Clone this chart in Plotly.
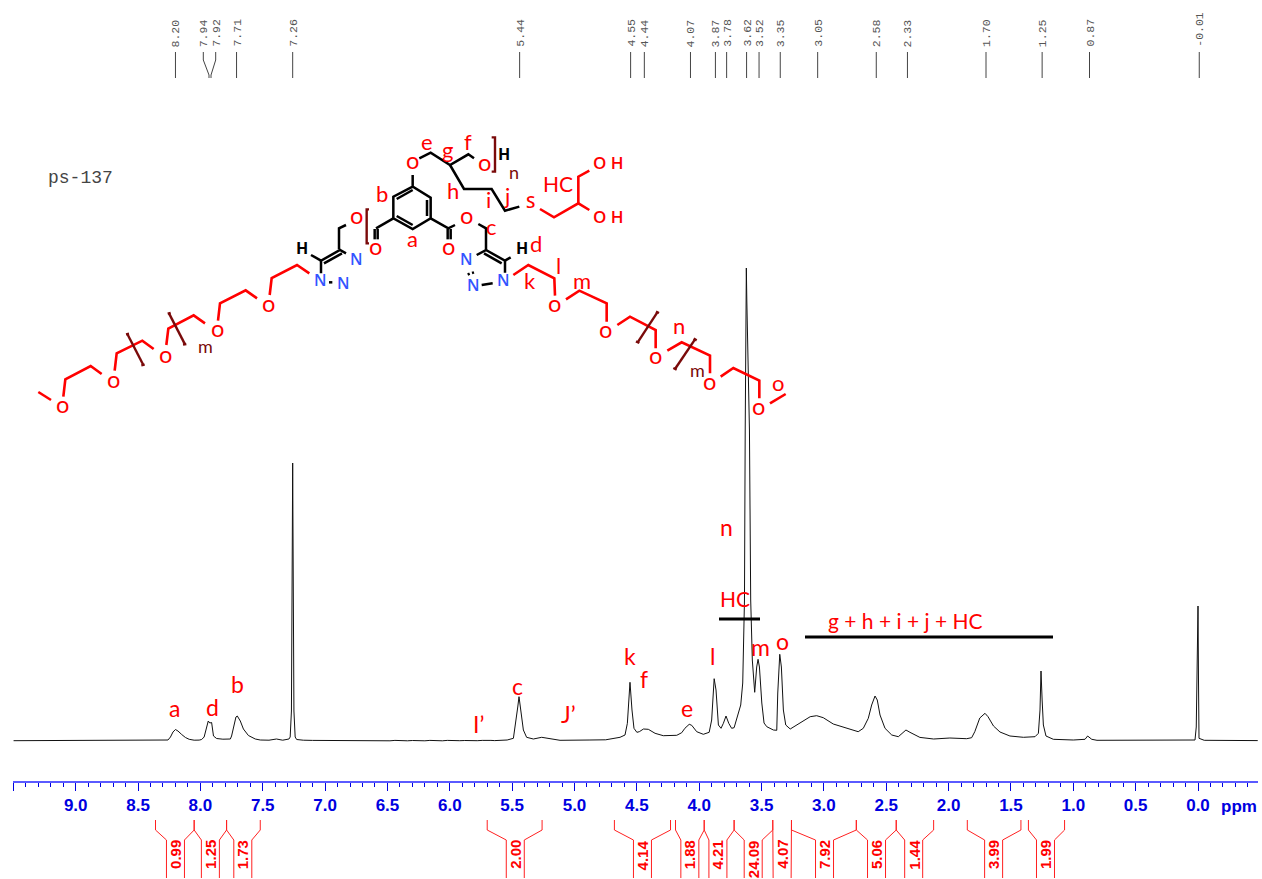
import plotly.graph_objects as go

# ---------- spectrum ----------
ppm = [9.50, 9.2, 8.9, 8.6, 8.40, 8.30, 8.26, 8.24, 8.22, 8.20, 8.18, 8.15, 8.12, 8.09, 8.05, 8.01,
       7.99, 7.97, 7.955, 7.937, 7.925, 7.91, 7.895, 7.87, 7.82, 7.76, 7.75, 7.737, 7.715, 7.704, 7.68,
       7.655, 7.615, 7.56, 7.52, 7.45, 7.39, 7.34, 7.29, 7.28, 7.27, 7.263, 7.26, 7.257, 7.25, 7.24, 7.228,
       7.175, 7.1, 7.0, 6.97, 6.94, 6.9, 6.86, 6.83, 6.79, 6.76, 6.72, 6.69, 6.65, 6.62, 6.58, 6.55, 6.51,
       6.48, 6.44, 6.41, 6.37, 6.34, 6.30, 6.27, 6.23, 6.20, 6.16, 6.13, 6.09, 6.06, 6.02, 5.99, 5.95, 5.92,
       5.88, 5.85, 5.81, 5.78, 5.74, 5.71, 5.67, 5.64, 5.60, 5.54, 5.49, 5.47, 5.455, 5.445, 5.43, 5.41, 5.384,
       5.33, 5.263, 5.197, 5.116, 4.876, 4.75, 4.635, 4.595, 4.576, 4.555, 4.539, 4.523, 4.50, 4.48, 4.447,
       4.408, 4.354, 4.288, 4.18, 4.14, 4.115, 4.08, 4.06, 4.02, 3.967, 3.92, 3.90, 3.88, 3.865, 3.846, 3.825,
       3.806, 3.785, 3.763, 3.74, 3.72, 3.695, 3.667, 3.651, 3.637, 3.631, 3.626, 3.622, 3.618, 3.61, 3.60,
       3.597, 3.587, 3.574, 3.555, 3.539, 3.528, 3.517, 3.498, 3.48, 3.458, 3.405, 3.378, 3.37, 3.354, 3.341,
       3.325, 3.306, 3.27, 3.19, 3.11, 3.058, 3.005, 2.925, 2.82, 2.725, 2.684, 2.644, 2.617, 2.59, 2.572,
       2.55, 2.51, 2.456, 2.403, 2.363, 2.342, 2.31, 2.27, 2.23, 2.12, 1.99, 1.855, 1.815, 1.79, 1.75, 1.708,
       1.684, 1.64, 1.588, 1.508, 1.40, 1.307, 1.28, 1.267, 1.259, 1.25, 1.24, 1.219, 1.16, 1.0, 0.906, 0.885,
       0.852, 0.81, 0.6, 0.3, 0.1, 0.024, 0.014, 0.005, 0.0, -0.004, -0.008, -0.05, -0.2, -0.48]
intensity = [0.3, 0.4, 0.3, 0.4, 0.4, 0.5, 1, 4, 9, 11.5, 10, 6.5, 3.5, 1.7, 0.8, 0.9,
             1.5, 4, 11, 20, 18, 18.5, 5, 2.5, 1.8, 2, 5, 13, 24, 25, 20,
             12, 5.5, 2, 1, 0.8, 2, 0.8, 2, 4, 30, 200, 278, 200, 30, 4, 1.5,
             0.8, 0.6, 0.5, 0.3, 0.6, 0.2, 0.5, 0.3, 0.6, 0.2, 0.6, 0.3, 0.5, 0.2, 0.6, 0.3, 0.5,
             0.2, 0.6, 0.3, 0.6, 0.2, 0.5, 0.3, 0.6, 0.2, 0.6, 0.3, 0.5, 0.2, 0.6, 0.3, 0.6, 0.3,
             0.5, 0.3, 0.6, 0.3, 0.6, 0.3, 0.6, 0.4, 0.7, 1, 2.7, 18, 34, 44.3, 31, 11, 3.7,
             2, 3.7, 2.3, 0.7, 1, 1.2, 3.7, 6, 17.7, 58.7, 31, 12.7, 8.7, 9.3, 12,
             11.7, 7.7, 5.3, 5.7, 8.3, 12.7, 16.7, 15.7, 9.3, 6.7, 8.7, 21, 62.3, 51, 16, 12.7,
             17.7, 25, 17.7, 12.7, 13.3, 24, 36, 58, 141, 311, 440, 473, 440, 400, 330,
             311, 141, 81, 48.7, 74, 81.7, 74, 38, 18, 14.3, 11, 10.7, 48, 86.7, 74,
             31, 16, 12, 18.3, 24.3, 25.3, 23.3, 17, 12.7, 9.3, 12.7, 22.7, 36, 45, 41,
             26, 12.7, 6, 4.3, 8.3, 11, 8.7, 6, 3.6, 2, 3, 2.3, 3.3, 9.3, 23, 27.7,
             24.3, 15, 9, 5, 3.7, 4.3, 7.7, 31, 70, 41, 16, 5, 1.7, 1, 1.7, 5,
             1.7, 0.7, 0.6, 0.6, 0.6, 1, 14, 90, 135, 60, 2.7, 0.7, 0.5, 0.4]

# ---------- peak picking ----------
peak_labels = ["8.20", "7.94", "7.92", "7.71", "7.26", "5.44", "4.55", "4.44", "4.07", "3.87", "3.78",
               "3.62", "3.52", "3.35", "3.05", "2.58", "2.33", "1.70", "1.25", "0.87", "-0.01"]

# ---------- integrals ----------
integral_labels = ["0.99", "1.25", "1.73", "2.00", "4.14", "1.88", "4.21", "24.09", "4.07", "7.92", "5.06",
                   "1.44", "3.99", "1.99"]
integral_start = [8.36, 8.05, 7.79, 5.70, 4.68, 4.19, 3.96, 3.72, 3.41, 3.26, 2.74, 2.42, 1.85, 1.36]
integral_end = [8.05, 7.79, 7.52, 5.26, 4.23, 3.96, 3.72, 3.41, 3.26, 2.74, 2.42, 2.12, 1.42, 1.07]
integral_centre = [8.20, 7.92, 7.66, 5.475, 4.455, 4.075, 3.85, 3.567, 3.335, 2.995, 2.578, 2.28, 1.639, 1.223]

tick_values = [9.5, 9.0, 8.5, 8.0, 7.5, 7.0, 6.5, 6.0, 5.5, 5.0, 4.5, 4.0, 3.5, 3.0, 2.5, 2.0, 1.5, 1.0, 0.5, 0.0]
tick_labels = ["", "9.0", "8.5", "8.0", "7.5", "7.0", "6.5", "6.0", "5.5", "5.0", "4.5", "4.0", "3.5", "3.0",
               "2.5", "2.0", "1.5", "1.0", "0.5", "0.0"]

# ---------- page geometry ----------
W, H = 1262, 879
PX0, PX_PER_PPM, BASE = 1198.0, 124.7, 741.0
RED, BLACK, DARK, BLUE, NBLUE = "#ff0000", "#000000", "#7a0a0a", "#0000e0", "#3355ff"
PX_LEFT, PX_RIGHT = PX0 - 9.5 * PX_PER_PPM, PX0 + 0.48 * PX_PER_PPM


def z3(p):
    return (p[0] / 3, 130 + p[1] / 3)


def z4(p):
    return (400 + p[0] / 3, 130 + p[1] / 3)


def poly_xy(lines):
    xs, ys = [], []
    for ln in lines:
        xs += [p[0] for p in ln] + [None]
        ys += [p[1] for p in ln] + [None]
    return xs, ys


def L3(*pts):
    return [z3(p) for p in pts]


def L4(*pts):
    return [z4(p) for p in pts]


red_bonds = [
    L3((115, 786), (153, 810)),
    L3((190, 800), (196, 748), (272, 708), (305, 732)),
    L3((344, 722), (350, 670), (427, 632), (461, 657)),
    L3((499, 645), (505, 596), (581, 556), (615, 580)),
    L3((654, 572), (660, 520), (737, 481), (771, 505)),
    L3((809, 495), (815, 444), (891, 405), (928, 430)),
    L4((420, 237), (462, 262), (535, 220), (568, 240)),
    L4((535, 220), (535, 140), (568, 122)),
    L4((340, 435), (385, 405), (463, 445), (465, 497)),
    L4((498, 508), (538, 482), (620, 520), (620, 575)),
    L4((652, 585), (690, 560), (767, 600), (767, 655)),
    L4((802, 662), (845, 637), (930, 677), (930, 730)),
    L4((962, 740), (1000, 714), (1078, 752), (1078, 805)),
    L4((1110, 820), (1157, 792)),
]
black_bonds = [
    L3((963, 430), (963, 392), (1020, 360), (1038, 370)),
    L3((972, 400), (1026, 370)),
    L3((933, 375), (963, 392)),
    L3((1017, 358), (1017, 295), (1038, 285)),
    L3((1124, 297), (1124, 328)),
    L3((1133, 297), (1133, 328)),
    L3((987, 457), (997, 457)),
    L4((-20, 265), (-72, 295)),
    L4((38, 135), (38, 170), (92, 203), (92, 265), (38, 297), (-20, 265), (-20, 200), (38, 170)),
    L4((-10, 207), (38, 180)),
    L4((-10, 258), (38, 285)),
    L4((81, 210), (81, 258)),
    L4((92, 265), (145, 295), (165, 285)),
    L4((143, 297), (143, 328)),
    L4((152, 297), (152, 328)),
    L4((235, 282), (258, 295), (258, 360), (230, 375)),
    L4((258, 360), (315, 392), (315, 428)),
    L4((252, 370), (305, 400)),
    L4((315, 392), (332, 382)),
    L4((245, 465), (278, 460)),
    L4((203, 434), (209, 431)),
    L4((216, 429), (222, 427)),
    L4((58, 85), (92, 68), (150, 105), (205, 73), (222, 85)),
    L4((150, 105), (192, 177), (275, 177), (315, 242), (358, 230)),
]
dark_bonds = [
    L3((378, 613), (387, 611)),
    L3((382, 612), (430, 705)),
    L3((424, 706), (434, 704)),
    L3((503, 551), (512, 549)),
    L3((507, 550), (555, 643)),
    L3((549, 644), (559, 642)),
    L3((1107, 238), (1100, 238), (1100, 340), (1107, 340)),
    L4((275, 22), (285, 22), (285, 125), (275, 125)),
    L4((768, 545), (777, 549)),
    L4((772, 547), (713, 637)),
    L4((708, 634), (718, 639)),
    L4((881, 626), (890, 631)),
    L4((885, 628), (825, 717)),
    L4((820, 714), (830, 719)),
]
rule_lines = [[(719, 619), (760, 619)], [(805, 637), (1053, 637)]]

# (x, y, text) in page pixels, atoms of the structure
red_atoms = [z3(p) + ("O",) for p in [(188, 830), (341, 753), (497, 678), (652, 602), (806, 526), (1071, 262),
                                      (1127, 356)]]
red_atoms += [z4(p) + (t,) for p, t in [((37, 98), "O"), ((255, 103), "O"), ((393, 215), "S"), ((200, 262), "O"),
                                        ((146, 356), "O"), ((464, 527), "O"), ((618, 604), "O"), ((767, 683), "O"),
                                        ((928, 760), "O"), ((1077, 836), "O"), ((625, 98), "O H"), ((625, 258), "O H")]]
blue_atoms = [z3(p) + ("N",) for p in [(961, 451), (1031, 458), (1071, 388)]]
blue_atoms += [z4(p) + ("N",) for p in [(201, 388), (311, 450), (222, 465)]]
black_atoms = [z3((907, 355)) + ("H",), z4((312, 72)) + ("H",), z4((366, 355)) + ("H",)]
dark_labels = [z3((618, 648)) + ("m",), z4((343, 125)) + ("n",), z4((892, 720)) + ("m",)]
structure_labels = [z3((1145, 190)) + ("b",)]
structure_labels += [z4(p) + (t,) for p, t in [((37, 325), "a"), ((82, 33), "e"), ((143, 58), "g"), ((203, 35), "f"),
                                               ((160, 182), "h"), ((265, 208), "i"), ((320, 195), "j"),
                                               ((275, 290), "c"), ((408, 340), "d"), ((390, 450), "k"),
                                               ((475, 405), "l"), ((545, 450), "m"), ((836, 585), "n"),
                                               ((1135, 757), "o")]]
peak_assignments = [(727, 527, "n"), (761, 647, "m"), (783, 641, "o"), (630, 656, "k"), (713, 656, "l"),
                    (644, 679, "f"), (687, 708, "e"), (518, 686, "c"), (479, 724, "I’"), (569, 714, "J’"),
                    (175, 708, "a"), (213, 707, "d"), (238, 684, "b")]
long_labels = [z4((475, 160)) + ("HC",), (735, 598, "HC"), (906, 620, "g + h + i + j + HC")]

fig = go.Figure()


def page_line(lines, color, width, name):
    xs, ys = poly_xy(lines)
    fig.add_trace(go.Scatter(x=xs, y=ys, xaxis="x2", yaxis="y2", mode="lines", name=name,
                             line=dict(color=color, width=width), hoverinfo="skip", showlegend=False))


page_line(red_bonds, RED, 2.6, "red bonds")
page_line(black_bonds, BLACK, 2.5, "black bonds")
page_line(dark_bonds, DARK, 2.4, "brackets")
page_line(rule_lines, BLACK, 3, "rules")

fig.add_trace(go.Scatter(x=ppm, y=intensity, mode="lines", name="1H NMR", line=dict(color="#111111", width=1),
                         showlegend=False))

# peak-picking leader lines
leader_x, leader_y = [], []
leader_pos = []
for lab in peak_labels:
    v = float(lab)
    if lab == "7.94":
        tops = [(1198 - 203.3) / PX_PER_PPM, (1198 - 209) / PX_PER_PPM]
    elif lab == "7.92":
        tops = [(1198 - 215.7) / PX_PER_PPM, (1198 - 211) / PX_PER_PPM]
    else:
        tops = [v, v]
    leader_pos.append(tops[0])
    leader_x += [tops[0], tops[0], tops[1], tops[1], None]
    leader_y += [BASE - 52, BASE - 60, BASE - 75, BASE - 78, None]
fig.add_trace(go.Scatter(x=leader_x, y=leader_y, mode="lines", line=dict(color="#444444", width=1),
                         hoverinfo="skip", showlegend=False))

# integral brackets
ix, iy = [], []
for s, e, c in zip(integral_start, integral_end, integral_centre):
    half = 9 / PX_PER_PPM
    ix += [s, s, c + half, c + half, None, e, e, c - half, c - half, None]
    iy += [BASE - 820, BASE - 830, BASE - 840, BASE - 878, None] * 2
fig.add_trace(go.Scatter(x=ix, y=iy, mode="lines", line=dict(color="#ff2020", width=1), hoverinfo="skip",
                         showlegend=False))

ann = []
for x, lab in zip(leader_pos, peak_labels):
    ann.append(dict(x=x, y=BASE - 48, xref="x", yref="y", text=lab, textangle=-90, showarrow=False, yanchor="bottom",
                    xanchor="center", font=dict(family="Liberation Mono", size=11.5, color="#555555"), borderpad=0))
for c, lab in zip(integral_centre, integral_labels):
    ann.append(dict(x=c, y=BASE - 839, xref="x", yref="y", text=lab, textangle=-90, showarrow=False, yanchor="top",
                    xanchor="center", font=dict(family="Liberation Sans", size=15, color="#ff0000", weight=700),
                    borderpad=0))


def page_text(items, family, size, color, weight=400):
    for x, y, t in items:
        ann.append(dict(x=x, y=y, xref="x2", yref="y2", text=t, showarrow=False, xanchor="center", yanchor="middle",
                        font=dict(family=family, size=size, color=color, weight=weight), borderpad=0))


page_text(red_atoms, "Open Sans", 17, RED, 600)
page_text(blue_atoms, "Open Sans", 16, NBLUE, 600)
page_text(black_atoms, "Open Sans", 16, BLACK, 700)
page_text(dark_labels, "Lato", 18, DARK)
page_text(structure_labels, "Lato", 22, RED)
page_text(peak_assignments, "Lato", 23, RED)
page_text(long_labels, "Lato", 21, RED)
page_text([(80.5, 178, "ps-137")], "Liberation Mono", 18, "#444444")
page_text([(1238.5, 806, "ppm")], "Liberation Sans", 17, BLUE, 700)

fig.update_layout(
    width=W, height=H, margin=dict(l=0, r=0, t=0, b=0), paper_bgcolor="white", plot_bgcolor="white", showlegend=False,
    annotations=ann,
    xaxis=dict(domain=[PX_LEFT / W, PX_RIGHT / W], range=[9.5, -0.48], anchor="free",
               position=(H - 782) / H, showgrid=False, zeroline=False, showline=True, linecolor="#5a5aff", linewidth=2,
               ticks="outside", ticklen=8, tickwidth=1, tickcolor="#0000e0", tickmode="array", tickvals=tick_values,
               ticktext=tick_labels, tickfont=dict(family="Liberation Sans", size=17, color=BLUE, weight=700),
               minor=dict(ticks="outside", ticklen=4, tickwidth=1, tickcolor="#0000e0", tick0=0, dtick=0.1,
                          showgrid=False)),
    yaxis=dict(domain=[0, 1], range=[BASE - H, BASE], visible=False),
    xaxis2=dict(range=[PX_LEFT, PX_RIGHT], visible=False, anchor="y2", overlaying="x"),
    yaxis2=dict(range=[H, 0], visible=False, anchor="x2", overlaying="y"),
)
fig.write_html("out.html", config={"displayModeBar": False}, post_script="document.body.style.margin='0';")
